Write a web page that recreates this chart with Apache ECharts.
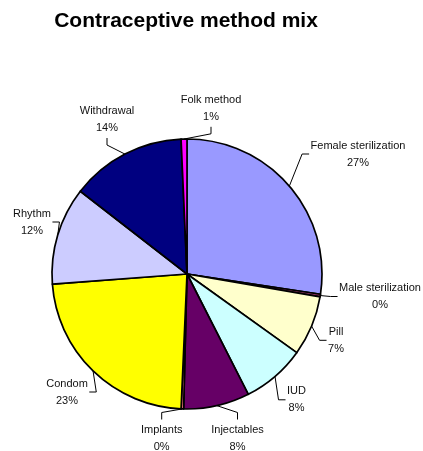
<!DOCTYPE html>
<html>
<head>
<meta charset="utf-8">
<title>Contraceptive method mix</title>
<script src="https://cdn.jsdelivr.net/npm/echarts@6/dist/echarts.min.js"></script>
<style>
  html, body { margin: 0; padding: 0; background: #fff; }
  #chart { width: 423px; height: 451px; }
</style>
</head>
<body>
<div id="chart"></div>
<script>
// Method shares (percent of users)
const methods = ['Female sterilization', 'Male sterilization', 'Pill', 'IUD', 'Injectables',
                 'Implants', 'Condom', 'Rhythm', 'Withdrawal', 'Folk method'];
const shares = [27.4, 0.3, 7.2, 7.6, 7.9, 0.3, 23.1, 11.7, 13.8, 0.7];

// Slice fills
const sliceColors = ['#9999FF', '#993366', '#FFFFCC', '#CCFFFF', '#660066',
                     '#FF8080', '#FFFF00', '#CCCCFF', '#000080', '#FF00FF'];

// Pie geometry (px)
const CX = 187, CY = 274, R = 135;

// Label box centres as offsets from the pie centre, and the box side each leader enters
const labelOffsets = [[171, -120], [193, 22.5], [149, 66.3], [109.5, 125.8], [50.5, 164],
                      [-25.3, 164], [-120, 118], [-155, -52], [-80, -154.5], [24, -165.7]];
const leaderSides = ['left', 'left', 'left', 'left', 'top', 'top', 'right', 'right', 'bottom', 'bottom'];

// Mid angle of every slice, clockwise from 12 o'clock
const total = shares.reduce((a, b) => a + b, 0);
const midAngles = [];
let acc = 0;
shares.forEach(v => { midAngles.push((acc + v / 2) / total * 2 * Math.PI); acc += v; });

const FONT = '"Liberation Sans", Arial, sans-serif';

const chart = echarts.init(document.getElementById('chart'), null, { renderer: 'canvas' });

chart.setOption({
  animation: false,
  backgroundColor: '#fff',
  title: {
    text: 'Contraceptive method mix',
    left: 181,
    top: 6,
    textAlign: 'center',
    textStyle: { fontFamily: FONT, fontWeight: 'bold', fontSize: 21, color: '#000' }
  },
  series: [{
    type: 'pie',
    center: [CX, CY],
    radius: R,
    startAngle: 90,
    clockwise: true,
    avoidLabelOverlap: false,
    silent: true,
    emphasis: { disabled: true },
    data: methods.map((name, i) => ({
      name: name,
      value: shares[i],
      itemStyle: { color: sliceColors[i] }
    })),
    itemStyle: { borderColor: '#000', borderWidth: 1.7 },
    label: {
      show: true,
      position: 'outside',
      formatter: p => p.name + '\n' + Math.round(p.percent) + '%',
      color: '#111',
      fontFamily: FONT,
      fontSize: 11,
      lineHeight: 17,
      overflow: 'none'
    },
    labelLine: { show: true, lineStyle: { color: '#000', width: 1 } },
    labelLayout: function (p) {
      const i = p.dataIndex;
      const lx = CX + labelOffsets[i][0];
      const ly = CY + labelOffsets[i][1];
      const w = p.labelRect.width, h = p.labelRect.height;
      const a = midAngles[i];
      const edge = [CX + R * Math.sin(a), CY - R * Math.cos(a)];
      const pad = 1.5, stub = 7;
      let end, bend;
      switch (leaderSides[i]) {
        case 'left':   end = [lx - w / 2 - pad, ly]; bend = [end[0] - stub, ly]; break;
        case 'right':  end = [lx + w / 2 + pad, ly]; bend = [end[0] + stub, ly]; break;
        case 'top':    end = [lx, ly - h / 2 - pad]; bend = [lx, end[1] - stub]; break;
        default:       end = [lx, ly + h / 2 + pad]; bend = [lx, end[1] + stub]; break;
      }
      return {
        x: lx, y: ly, align: 'center', verticalAlign: 'middle',
        labelLinePoints: [edge, bend, end]
      };
    }
  }]
});
</script>
</body>
</html>
